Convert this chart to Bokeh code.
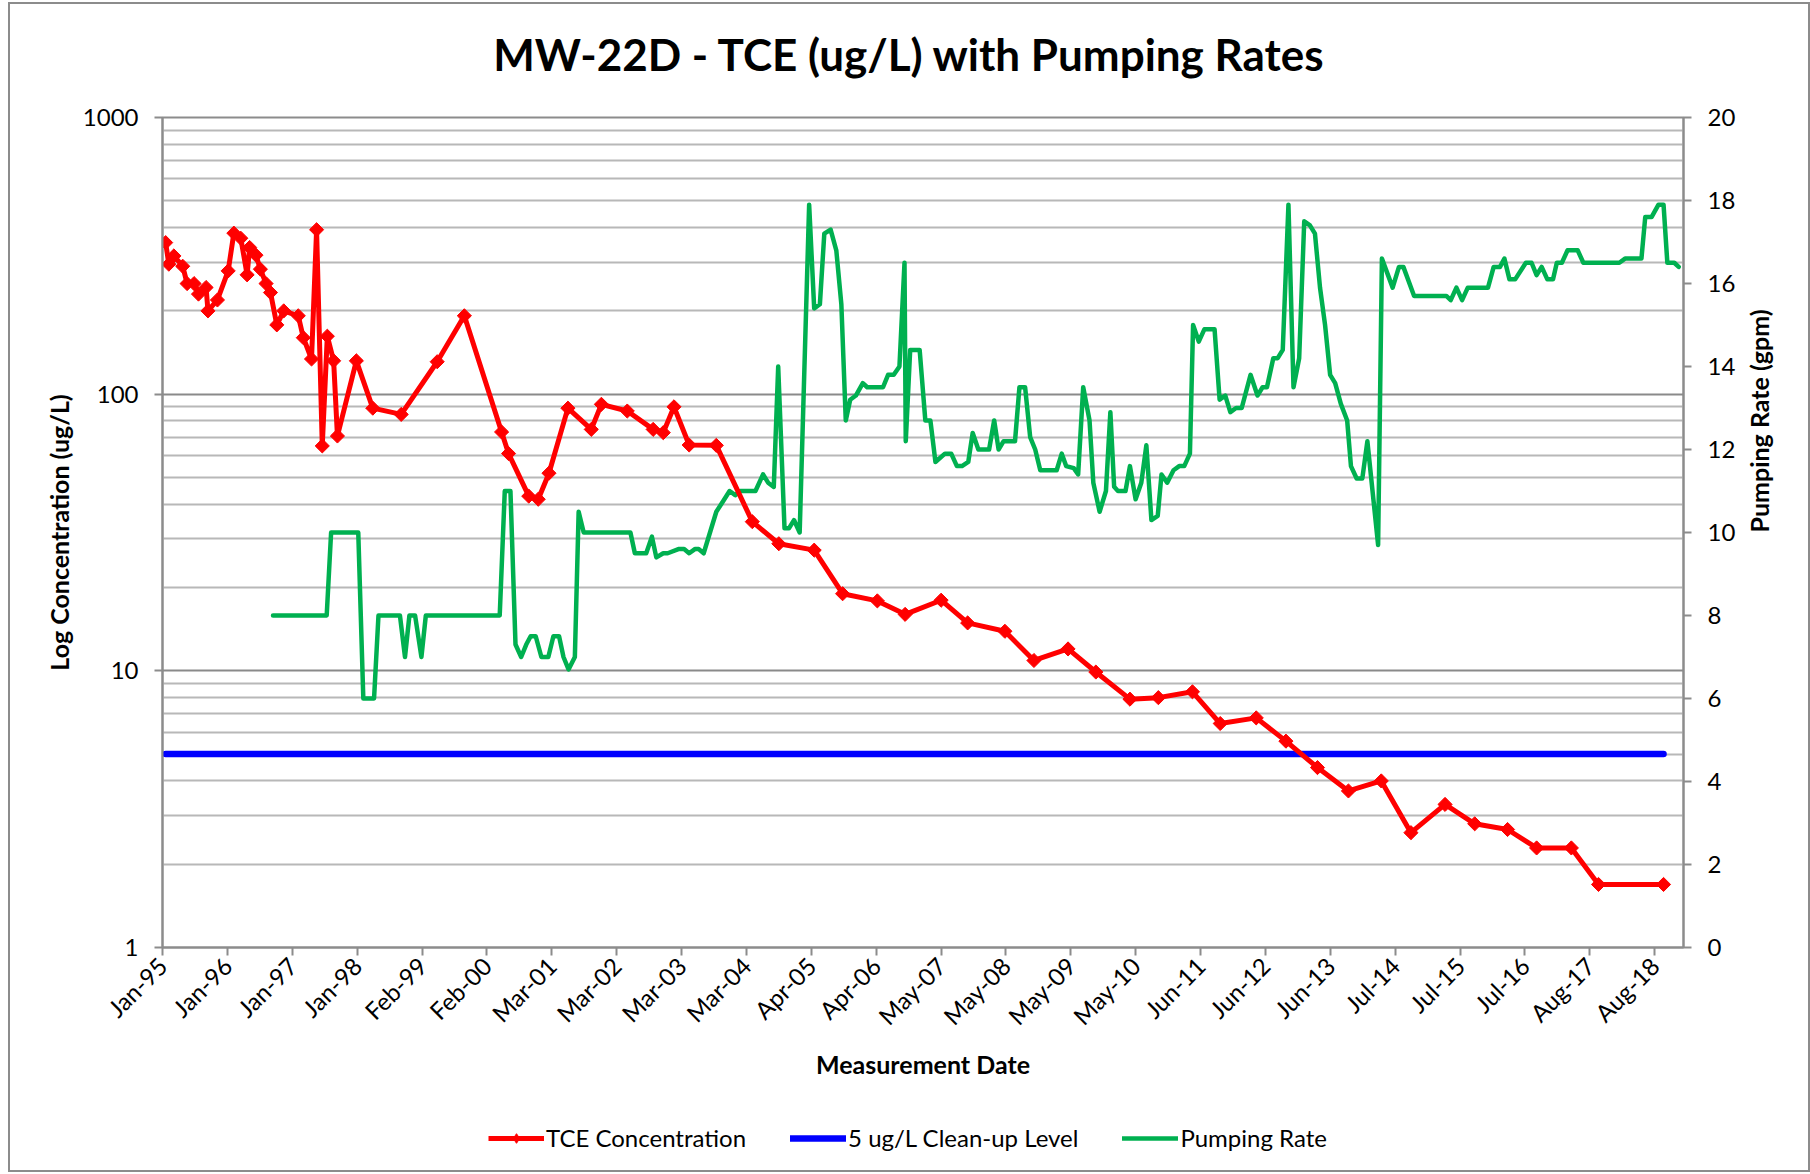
import math
from bokeh.plotting import figure
from bokeh.layouts import column
from bokeh.core.properties import value
from bokeh.models import (Range1d, LinearAxis, LinearScale, FixedTicker, Legend, LegendItem,
                          CustomJSTickFormatter, NumeralTickFormatter)
from bokeh.embed import file_html
from bokeh.resources import INLINE

# ---- data -------------------------------------------------------------
# TCE sample dates (decimal years) and concentrations (ug/L)
tce_year = [1995.05, 1995.10, 1995.18, 1995.32, 1995.39, 1995.50, 1995.57, 1995.69, 1995.72, 1995.87,
            1996.04, 1996.13, 1996.24, 1996.34, 1996.38, 1996.48, 1996.55, 1996.64, 1996.71, 1996.81, 1996.92,
            1997.15, 1997.23, 1997.36, 1997.44, 1997.53, 1997.61, 1997.71, 1997.77,
            1998.07, 1998.33, 1998.78, 1999.35, 1999.78,
            2000.37, 2000.48, 2000.80, 2000.95, 2001.12, 2001.42, 2001.79, 2001.95,
            2002.36, 2002.77, 2002.93, 2003.10, 2003.34, 2003.77, 2004.34, 2004.76,
            2005.32, 2005.77, 2006.32, 2006.76, 2007.33, 2007.75, 2008.34, 2008.80,
            2009.34, 2009.78, 2010.32, 2010.77, 2011.31, 2011.75, 2012.32, 2012.79,
            2013.29, 2013.78, 2014.30, 2014.77, 2015.31, 2015.78, 2016.30, 2016.76,
            2017.31, 2017.74, 2018.77]
tce_ugL = [353, 295, 316, 290, 251, 251, 230, 243, 200, 219,
           279, 382, 366, 270, 339, 318, 283, 251, 233, 178, 200,
           192, 160, 134, 393, 65, 162, 132, 70.6,
           132, 89, 84.5, 131, 192,
           73, 61, 42.8, 41.7, 51.8, 89, 74.6, 91.9,
           86.9, 74.6, 72.6, 90, 65.5, 65.3, 34.6, 28.8,
           27.3, 19.0, 17.9, 16.0, 18.0, 14.9, 13.9, 10.9,
           12.0, 9.9, 7.9, 8.0, 8.4, 6.45, 6.76, 5.57,
           4.47, 3.68, 4.0, 2.60, 3.29, 2.80, 2.67, 2.29,
           2.29, 1.69, 1.69]

cleanup_level = 5.0

# Pumping rate record (decimal years, gpm)
rate_year = [1996.75, 1997.60, 1997.67, 1998.10, 1998.18, 1998.35, 1998.42, 1998.76, 1998.84, 1998.91,
             1999.00, 1999.10, 1999.17, 2000.34, 2000.42, 2000.51, 2000.59, 2000.68, 2000.76, 2000.83,
             2000.91, 2001.00, 2001.11, 2001.19, 2001.28, 2001.35, 2001.43, 2001.53, 2001.59, 2001.67,
             2002.41, 2002.48, 2002.66, 2002.75, 2002.82, 2002.93, 2003.00, 2003.17, 2003.26, 2003.34,
             2003.43, 2003.49, 2003.57, 2003.77, 2003.88, 2003.98, 2004.07, 2004.15, 2004.39, 2004.51,
             2004.59, 2004.68, 2004.75, 2004.85, 2004.92, 2005.00, 2005.09, 2005.24, 2005.32, 2005.41,
             2005.48, 2005.58, 2005.67, 2005.75, 2005.82, 2005.89, 2005.98, 2006.09, 2006.16, 2006.41,
             2006.49, 2006.58, 2006.67, 2006.75, 2006.77, 2006.84, 2006.99, 2007.08, 2007.16, 2007.24,
             2007.39, 2007.49, 2007.58, 2007.66, 2007.76, 2007.83, 2007.92, 2008.09, 2008.17, 2008.24,
             2008.32, 2008.50, 2008.57, 2008.66, 2008.74, 2008.82, 2008.90, 2009.16, 2009.24, 2009.31,
             2009.43, 2009.50, 2009.58, 2009.68, 2009.74, 2009.84, 2009.94, 2010.01, 2010.07, 2010.13,
             2010.25, 2010.32, 2010.41, 2010.50, 2010.58, 2010.66, 2010.76, 2010.82, 2010.91, 2011.01,
             2011.10, 2011.18, 2011.27, 2011.32, 2011.41, 2011.50, 2011.66, 2011.74, 2011.83, 2011.91,
             2012.00, 2012.09, 2012.23, 2012.34, 2012.42, 2012.49, 2012.59, 2012.66, 2012.74, 2012.83,
             2012.91, 2013.00, 2013.08, 2013.17, 2013.25, 2013.33, 2013.41, 2013.49, 2013.57, 2013.66,
             2013.76, 2013.82, 2013.91, 2014.00, 2014.08, 2014.25, 2014.31, 2014.48, 2014.58, 2014.65,
             2014.82, 2015.33, 2015.40, 2015.49, 2015.58, 2015.67, 2015.99, 2016.08, 2016.18, 2016.25,
             2016.33, 2016.42, 2016.59, 2016.68, 2016.76, 2016.84, 2016.93, 2017.02, 2017.08, 2017.16,
             2017.25, 2017.41, 2017.50, 2018.07, 2018.16, 2018.42, 2018.48, 2018.58, 2018.69, 2018.77,
             2018.83, 2018.94, 2019.01]
rate_gpm = [8.0, 8.0, 10.0, 10.0, 6.0, 6.0, 8.0, 8.0, 7.0, 8.0,
            8.0, 7.0, 8.0, 8.0, 11.0, 11.0, 7.3, 7.0, 7.3, 7.5,
            7.5, 7.0, 7.0, 7.5, 7.5, 7.0, 6.7, 7.0, 10.5, 10.0,
            10.0, 9.5, 9.5, 9.9, 9.4, 9.5, 9.5, 9.6, 9.6, 9.5,
            9.6, 9.6, 9.5, 10.5, 10.76, 11.0, 10.9, 11.0, 11.0, 11.4,
            11.2, 11.1, 14.0, 10.1, 10.1, 10.3, 10.0, 17.9, 15.4, 15.5,
            17.2, 17.3, 16.8, 15.5, 12.7, 13.2, 13.3, 13.6, 13.5, 13.5,
            13.8, 13.8, 14.0, 16.5, 12.2, 14.4, 14.4, 12.7, 12.7, 11.7,
            11.9, 11.9, 11.6, 11.6, 11.7, 12.4, 12.0, 12.0, 12.7, 12.0,
            12.2, 12.2, 13.5, 13.5, 12.3, 12.0, 11.5, 11.5, 11.9, 11.6,
            11.55, 11.4, 13.5, 12.7, 11.2, 10.5, 11.0, 12.9, 11.1, 11.0,
            11.0, 11.6, 10.8, 11.2, 12.1, 10.3, 10.4, 11.4, 11.2, 11.5,
            11.6, 11.6, 11.9, 15.0, 14.6, 14.9, 14.9, 13.2, 13.3, 12.9,
            13.0, 13.0, 13.8, 13.3, 13.5, 13.5, 14.2, 14.2, 14.4, 17.9,
            13.5, 14.2, 17.5, 17.4, 17.2, 15.9, 15.0, 13.8, 13.6, 13.1,
            12.7, 11.6, 11.3, 11.3, 12.2, 9.7, 16.6, 15.9, 16.4, 16.4,
            15.7, 15.7, 15.6, 15.9, 15.6, 15.9, 15.9, 16.4, 16.4, 16.6,
            16.1, 16.1, 16.5, 16.5, 16.2, 16.4, 16.1, 16.1, 16.5, 16.5,
            16.8, 16.8, 16.5, 16.5, 16.6, 16.6, 17.6, 17.6, 17.9, 17.9,
            16.5, 16.5, 16.4]

# Date-axis labels (major unit of 375.25 days from 1 Jan 1995)
tick_labels = ["Jan-95", "Jan-96", "Jan-97", "Jan-98", "Feb-99", "Feb-00", "Mar-01", "Mar-02",
               "Mar-03", "Mar-04", "Apr-05", "Apr-06", "May-07", "May-08", "May-09", "May-10",
               "Jun-11", "Jun-12", "Jun-13", "Jul-14", "Jul-15", "Jul-16", "Aug-17", "Aug-18"]
axis_start = 1995.0
tick_step = 375.25 / 365.25
tick_pos = [axis_start + k * tick_step for k in range(len(tick_labels))]

pump_ticks = list(range(0, 21, 2))
conc_major = [1, 10, 100, 1000]
conc_minor = [m * d for d in (1, 10, 100) for m in range(2, 10)]

chart_title = "MW-22D - TCE (ug/L) with Pumping Rates"

# ---- styling ----------------------------------------------------------
FONT = "Lato"
AXIS_GRAY = "#8c8c8c"
RED = "#ff0000"
BLUE = "#0000ff"
GREEN = "#00b050"
WIDTH = 1798
LEFT, RIGHT = 152, 125            # side borders shared by all three strips
FRAME_W = WIDTH - LEFT - RIGHT


def strip(height):
    """A bare figure used for the heading and the key."""
    f = figure(width=WIDTH, height=height, output_backend="svg", toolbar_location=None,
               x_axis_location=None, y_axis_location=None,
               x_range=Range1d(LEFT, LEFT + FRAME_W), y_range=Range1d(0, height),
               min_border_left=LEFT, min_border_right=RIGHT, min_border_top=0, min_border_bottom=0,
               outline_line_color=None, background_fill_color="white", border_fill_color="white")
    f.grid.visible = False
    return f


# ---- heading ------------------------------------------------------------
head = strip(93)
head.text(x=[899], y=[44], text=[chart_title], text_align="center", text_baseline="middle",
          text_font=value(FONT), text_font_style="bold", text_font_size="44px", text_color="black")

# ---- main chart -----------------------------------------------------------
p = figure(frame_width=FRAME_W, frame_height=830, output_backend="svg", toolbar_location=None,
           y_axis_type="log", x_range=Range1d(axis_start, 2019.086), y_range=Range1d(1, 1000),
           min_border_left=LEFT, min_border_right=RIGHT, min_border_top=20, min_border_bottom=163,
           background_fill_color="white", border_fill_color="white")
p.outline_line_color = AXIS_GRAY
p.outline_line_width = 2

xax = p.xaxis[0]
yax = p.yaxis[0]

# concentration axis (left, log)
yax.ticker = FixedTicker(ticks=conc_major, minor_ticks=conc_minor)
yax.formatter = NumeralTickFormatter(format="0")
yax.axis_label = "Log Concentration (ug/L)"

p.ygrid.ticker = FixedTicker(ticks=conc_major, minor_ticks=conc_minor)
p.ygrid.grid_line_color = "#8a8a8a"
p.ygrid.grid_line_width = 2
p.ygrid.minor_grid_line_color = "#b8b8b8"
p.ygrid.minor_grid_line_width = 2
p.xgrid.visible = False

# pumping-rate axis (right, linear)
p.extra_y_ranges = {"rate": Range1d(0, 20)}
p.extra_y_scales = {"rate": LinearScale()}
rax = LinearAxis(y_range_name="rate", ticker=FixedTicker(ticks=pump_ticks),
                 axis_label="Pumping Rate (gpm)")
if "axis_label_orientation" in rax.properties():
    rax.axis_label_orientation = math.pi / 2
p.add_layout(rax, "right")

# date axis
xax.ticker = FixedTicker(ticks=tick_pos)
xax.formatter = CustomJSTickFormatter(
    args=dict(labels=tick_labels, start=axis_start, step=tick_step),
    code="const i = Math.round((tick - start) / step); return labels[i] || '';")
xax.major_label_orientation = math.pi / 4
xax.axis_label = "Measurement Date"

for ax in (yax, rax, xax):
    ax.axis_line_color = AXIS_GRAY
    ax.axis_line_width = 2
    ax.major_tick_line_color = AXIS_GRAY
    ax.major_tick_line_width = 2
    ax.major_tick_out = 8
    ax.major_tick_in = 0
    ax.minor_tick_line_color = None
    ax.major_label_text_font = FONT
    ax.major_label_text_font_size = "24px"
    ax.major_label_text_color = "black"
    ax.axis_label_text_font = FONT
    ax.axis_label_text_font_style = "bold"
    ax.axis_label_text_font_size = "25px"
    ax.axis_label_text_color = "black"
yax.major_label_standoff = 16
rax.major_label_standoff = 16
xax.major_label_standoff = 6
yax.axis_label_standoff = 6
rax.axis_label_standoff = 21
xax.axis_label_standoff = 6

p.line(rate_year, rate_gpm, y_range_name="rate", line_color=GREEN, line_width=4.5,
       line_join="round", line_cap="round")
p.line(tce_year, [cleanup_level] * len(tce_year), line_color=BLUE, line_width=6.5,
       line_cap="round")
p.line(tce_year, tce_ugL, line_color=RED, line_width=5, line_join="round")
p.scatter(tce_year, tce_ugL, marker="square", angle=math.pi / 4, size=10,
          fill_color=RED, line_color=RED)

# ---- key strip under the chart ------------------------------------------
leg = strip(60)
off_x, off_y = [-10, -9], [-10, -10]     # swatch renderers kept outside the visible range
k_red = leg.line(off_x, off_y, line_color=RED, line_width=5)
k_dia = leg.scatter(off_x[:1], off_y[:1], marker="diamond", size=17, fill_color=RED, line_color=RED)
k_blue = leg.line(off_x, off_y, line_color=BLUE, line_width=6.5, line_cap="round")
k_green = leg.line(off_x, off_y, line_color=GREEN, line_width=4.5, line_cap="round")

legend = Legend(items=[
    LegendItem(label="TCE Concentration", renderers=[k_red, k_dia]),
    LegendItem(label="5 ug/L Clean-up Level", renderers=[k_blue]),
    LegendItem(label="Pumping Rate", renderers=[k_green]),
], orientation="horizontal", location=(326, 18), border_line_color=None,
    background_fill_alpha=0, label_text_font=FONT, label_text_font_size="24px",
    label_text_color="black", glyph_width=56, glyph_height=24, spacing=44,
    label_standoff=2, padding=0, margin=0)
leg.add_layout(legend, "center")

root = column(head, p, leg, spacing=0)
root.margin = (4, 0, 0, 10)
root.styles = {"outline": "2px solid #8c8c8c"}

open("out.html", "w").write(file_html(root, INLINE))
